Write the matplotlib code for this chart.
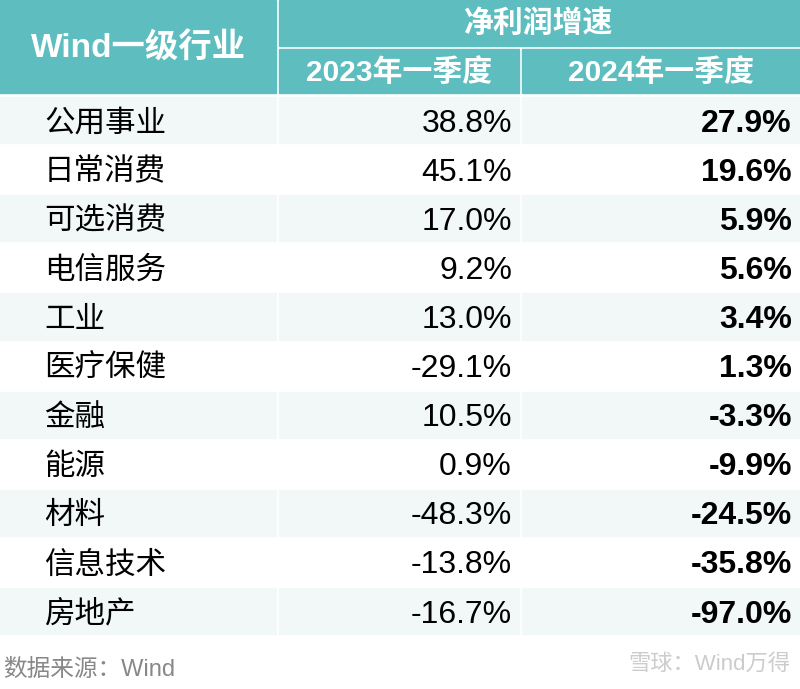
import matplotlib
matplotlib.use("Agg")
import matplotlib.pyplot as plt
from matplotlib.patches import Rectangle

industries = ["公用事业","日常消费","可选消费","电信服务","工业","医疗保健","金融","能源","材料","信息技术","房地产"]
g2023 = [38.8,45.1,17.0,9.2,13.0,-29.1,10.5,0.9,-48.3,-13.8,-16.7]
g2024 = [27.9,19.6,5.9,5.6,3.4,1.3,-3.3,-9.9,-24.5,-35.8,-97.0]
col_headers = ["2023年一季度","2024年一季度"]

plt.rcParams["font.family"] = ["Liberation Sans","Noto Sans CJK SC"]
fig = plt.figure(figsize=(8,6.89), dpi=100)
ax = fig.add_axes([0,0,1,1])
ax.set_xlim(0,800); ax.set_ylim(689,0); ax.axis("off")

hc = "#5EBDBE"
cols = [(0,276),(279,519),(522,800)]
ax.add_patch(Rectangle((0,0),276,93,color=hc))
ax.add_patch(Rectangle((279,0),521,46,color=hc))
ax.add_patch(Rectangle((279,49),240,44,color=hc))
ax.add_patch(Rectangle((522,49),278,44,color=hc))
ax.text(138,49,"Wind一级行业",color="white",fontsize=24,fontweight="bold",ha="center",va="center")
ax.text(539,24,"净利润增速",color="white",fontsize=21.5,fontweight="bold",ha="center",va="center")
ax.text(399,73,col_headers[0],color="white",fontsize=21.5,fontweight="bold",ha="center",va="center")
ax.text(661,73,col_headers[1],color="white",fontsize=21.5,fontweight="bold",ha="center",va="center")

y0, rh = 96, 49.1
for i,(n,a,b) in enumerate(zip(industries,g2023,g2024)):
    y = y0+i*rh
    if i%2==0:
        for x0,x1 in cols:
            ax.add_patch(Rectangle((x0,y+1),x1-x0,rh-3,color="#F2F8F8"))
    yc = y+rh/2+3
    ax.text(44,yc,n,fontsize=22,ha="left",va="center",color="black")
    ax.text(512,yc,f"{a:.1f}%",fontsize=23,ha="right",va="center",color="black")
    ax.text(792,yc,f"{b:.1f}%",fontsize=23,ha="right",va="center",fontweight="bold",color="black")

ax.text(3,670,"数据来源：Wind",fontsize=17,color="#888888",ha="left",va="center")
ax.text(790,664,"雪球：Wind万得",fontsize=16,color="#CCCCCC",ha="right",va="center")
fig.savefig("out.png",dpi=100)
